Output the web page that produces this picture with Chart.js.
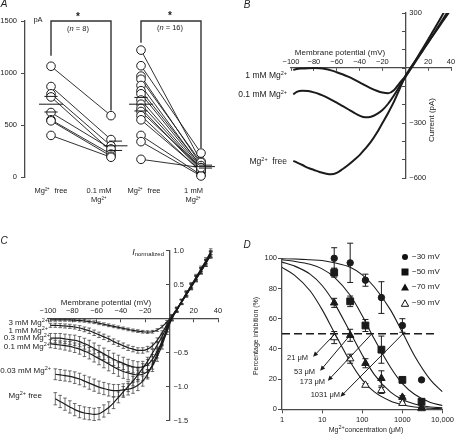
<!DOCTYPE html>
<html>
<head>
<meta charset="utf-8">
<title>Mg2+ block of NMDA currents</title>
<script src="https://cdn.jsdelivr.net/npm/chart.js@4.4.1/dist/chart.umd.min.js"></script>
<style>
  html, body { margin: 0; padding: 0; background: #fff; }
  #fig { position: relative; width: 456px; height: 437px; overflow: hidden;
         font-family: "Liberation Sans", Arial, sans-serif; color: #222; }
  #fig canvas { position: absolute; }
  .t { position: absolute; white-space: nowrap; line-height: 1; font-size: 8px; }
  .c { transform: translate(-50%, -50%); }
  .r { transform: translate(-100%, -50%); }
  .l { transform: translate(0, -50%); }
  .v { transform: translate(-50%, -50%) rotate(-90deg); }
  .p { font-style: italic; font-size: 10px; }
  .s { font-size: 7px; }
  sup { font-size: 5.5px; vertical-align: 3px; line-height: 0; }
  sub { font-size: 6px; vertical-align: -1px; line-height: 0; }
  .mk { position: absolute; transform: translate(-50%, -50%); }
</style>
</head>
<body>
<div id="fig">
  <canvas id="chartA" width="228" height="218" style="left:0;top:0"></canvas>
  <canvas id="chartB" width="228" height="218" style="left:228px;top:0"></canvas>
  <canvas id="chartC" width="228" height="219" style="left:0;top:218px"></canvas>
  <canvas id="chartD" width="228" height="219" style="left:228px;top:218px"></canvas>

  <!-- panel A text -->
  <div class="t p c" style="left:4px;top:4px">A</div>
  <div class="t c" style="left:38px;top:20px;font-size:7.5px">pA</div>
  <div class="t c" style="left:78px;top:17px;font-size:10px;font-weight:bold">*</div>
  <div class="t c" style="left:78px;top:29px;font-size:7.5px">(<i>n</i> = 8)</div>
  <div class="t c" style="left:170px;top:16px;font-size:10px;font-weight:bold">*</div>
  <div class="t c" style="left:170px;top:28px;font-size:7.5px">(<i>n</i> = 16)</div>

  <!-- panel B text -->
  <div class="t p c" style="left:247px;top:5px">B</div>
  <div class="t c" style="left:340px;top:53px">Membrane potential (mV)</div>
  <div class="t v" style="left:432px;top:120px">Current (pA)</div>
  <div class="t r" style="left:287px;top:75px;font-size:8.5px">1 mM Mg<sup>2+</sup></div>
  <div class="t r" style="left:287px;top:94px;font-size:8.5px">0.1 mM Mg<sup>2+</sup></div>
  <div class="t r" style="left:287px;top:161px;font-size:8.5px">Mg<sup>2+</sup>&nbsp; free</div>

  <!-- panel C text -->
  <div class="t p c" style="left:4px;top:241px">C</div>
  <div class="t c" style="left:106px;top:303px">Membrane potential (mV)</div>
  <div class="t r" style="left:164px;top:252px;font-size:9px"><i>I</i><sub>normalized</sub></div>
  <div class="t r" style="left:48px;top:323px">3 mM Mg<sup>2+</sup></div>
  <div class="t r" style="left:48px;top:331px">1 mM Mg<sup>2+</sup></div>
  <div class="t r" style="left:50px;top:338px">0.3 mM Mg<sup>2+</sup></div>
  <div class="t r" style="left:50px;top:347px">0.1 mM Mg<sup>2+</sup></div>
  <div class="t r" style="left:51px;top:371px">0.03 mM Mg<sup>2+</sup></div>
  <div class="t r" style="left:42px;top:396px">Mg<sup>2+</sup> free</div>

  <!-- panel D text -->
  <div class="t p c" style="left:247px;top:245px">D</div>
  <div class="t v s" style="left:255px;top:336px">Percentage inhibition (%)</div>
  <div class="t c s" style="left:366px;top:429px">Mg<sup>2+</sup>concentration (&mu;M)</div>
  <svg class="mk" style="left:405px;top:257px" width="8" height="8"><circle cx="4" cy="4" r="3" fill="#111"/></svg>
  <svg class="mk" style="left:405px;top:272px" width="8" height="8"><rect x="0.5" y="0.5" width="7" height="7" fill="#111"/></svg>
  <svg class="mk" style="left:405px;top:287px" width="9" height="8"><polygon points="4.5,0.5 8.5,7.5 0.5,7.5" fill="#111"/></svg>
  <svg class="mk" style="left:405px;top:303px" width="9" height="8"><polygon points="4.5,0.8 8.2,7.3 0.8,7.3" fill="#fff" stroke="#111" stroke-width="1"/></svg>
  <div class="t l" style="left:412px;top:257px">&minus;30 mV</div>
  <div class="t l" style="left:412px;top:272px">&minus;50 mV</div>
  <div class="t l" style="left:412px;top:287px">&minus;70 mV</div>
  <div class="t l" style="left:412px;top:303px">&minus;90 mV</div>
  <div id="icLabels"></div>
</div>

<script>
// ---------- data ----------
// A: paired peak currents (pA)
const aFreeLow = [1065, 870, 800, 770, 620, 550, 540, 400];
const aMg01 = [590, 360, 300, 250, 270, 220, 200, 190];
const aFreeHigh = [1220, 1070, 970, 940, 880, 830, 800, 740, 700, 660, 630, 590, 550, 400, 340, 170];
const aMg1 = [150, 230, 120, 140, 100, 110, 90, 80, 70, 60, 90, 50, 60, 20, 10, 90];
const aMeans = [700, 300, 700, 100];
const aSems = [75, 45, 65, 14];
const aLabels = [['Mg\u00B2\u207A  free'], ['0.1 mM', 'Mg\u00B2\u207A'], ['Mg\u00B2\u207A  free'], ['1 mM', 'Mg\u00B2\u207A']];

// B: I-V traces (pA)
const bVoltage = [-98, -95, -90, -85, -80, -75, -70, -65, -60, -55, -50, -45, -40, -35, -30, -25, -20, -15, -10, -5, 0, 5, 10, 15, 20, 25, 30, 35, 40];
const bMg1 = [-11, -5, -3, -1, 0, -2, -6, -13, -23, -34, -47, -62, -78, -95, -111, -124, -134, -138, -122, -82, -45, 0, 52, 104, 156, 208, 262, 316, 370];
const bMg01 = [-144, -130, -124, -126, -133, -143, -156, -172, -189, -207, -225, -243, -260, -269, -266, -252, -229, -195, -150, -100, -50, -3, 45, 92, 140, 188, 237, 286, 335];
const bFree = [-507, -515, -529, -545, -556, -567, -575, -580, -572, -552, -529, -503, -475, -440, -402, -355, -300, -245, -185, -115, -45, 5, 50, 95, 140, 185, 230, 275, 320];

// C: normalized I-V, mean and SEM
const cVoltage = [-98, -94, -90, -86, -82, -78, -74, -70, -66, -62, -58, -54, -50, -46, -42, -38, -34, -30, -26, -22, -18, -14, -10, -6, -2, 2, 6, 10, 14, 18, 22, 26, 30, 34];
const c3mM = [-0.02, -0.02, -0.02, -0.02, -0.02, -0.025, -0.03, -0.035, -0.045, -0.055, -0.07, -0.085, -0.1, -0.115, -0.13, -0.145, -0.16, -0.175, -0.185, -0.195, -0.2, -0.195, -0.17, -0.12, -0.05, 0.03, 0.13, 0.25, 0.37, 0.48, 0.6, 0.72, 0.84, 0.97];
const c1mM = [-0.1, -0.1, -0.105, -0.11, -0.115, -0.125, -0.14, -0.16, -0.18, -0.21, -0.24, -0.27, -0.3, -0.34, -0.37, -0.4, -0.43, -0.45, -0.47, -0.47, -0.45, -0.4, -0.32, -0.21, -0.09, 0.03, 0.14, 0.25, 0.37, 0.48, 0.6, 0.71, 0.83, 0.95];
const c03mM = [-0.29, -0.29, -0.29, -0.3, -0.31, -0.32, -0.34, -0.37, -0.4, -0.44, -0.48, -0.52, -0.56, -0.6, -0.63, -0.66, -0.69, -0.71, -0.72, -0.71, -0.68, -0.6, -0.48, -0.33, -0.15, 0.01, 0.13, 0.24, 0.36, 0.47, 0.59, 0.7, 0.82, 0.94];
const c01mM = [-0.37, -0.38, -0.39, -0.4, -0.41, -0.43, -0.45, -0.48, -0.51, -0.55, -0.59, -0.63, -0.67, -0.71, -0.75, -0.78, -0.8, -0.82, -0.83, -0.82, -0.78, -0.7, -0.56, -0.39, -0.19, 0.0, 0.12, 0.24, 0.35, 0.46, 0.58, 0.69, 0.81, 0.93];
const c003mM = [null, -0.82, -0.83, -0.84, -0.85, -0.87, -0.89, -0.92, -0.95, -0.98, -1.01, -1.03, -1.05, -1.06, -1.06, -1.05, -1.04, -1.02, -0.98, -0.92, -0.82, -0.68, -0.52, -0.35, -0.16, 0.0, 0.12, 0.24, 0.35, 0.47, 0.58, 0.7, 0.81, 0.94];
const cFree = [null, -1.18, -1.22, -1.26, -1.3, -1.34, -1.37, -1.39, -1.4, -1.41, -1.4, -1.36, -1.31, -1.24, -1.16, -1.08, -1.0, -0.92, -0.83, -0.73, -0.63, -0.51, -0.39, -0.26, -0.12, 0.01, 0.13, 0.25, 0.37, 0.49, 0.61, 0.73, 0.85, 0.98];
const s3mM = [0.02, 0.02, 0.02, 0.02, 0.02, 0.02, 0.02, 0.02, 0.02, 0.02, 0.02, 0.02, 0.02, 0.02, 0.02, 0.02, 0.02, 0.02, 0.02, 0.02, 0.02, 0.02, 0.02, 0.02, 0.02, 0.02, 0.03, 0.03, 0.03, 0.03, 0.03, 0.03, 0.03, 0.03];
const s1mM = [0.03, 0.03, 0.03, 0.03, 0.03, 0.03, 0.035, 0.035, 0.04, 0.04, 0.04, 0.04, 0.04, 0.04, 0.04, 0.04, 0.04, 0.04, 0.04, 0.04, 0.04, 0.04, 0.035, 0.03, 0.03, 0.03, 0.03, 0.03, 0.035, 0.035, 0.035, 0.04, 0.04, 0.04];
const s03mM = [0.07, 0.07, 0.07, 0.07, 0.07, 0.075, 0.075, 0.08, 0.08, 0.08, 0.085, 0.085, 0.09, 0.09, 0.09, 0.09, 0.09, 0.09, 0.085, 0.08, 0.075, 0.07, 0.06, 0.05, 0.04, 0.03, 0.03, 0.035, 0.035, 0.04, 0.04, 0.04, 0.045, 0.045];
const s01mM = [0.06, 0.06, 0.06, 0.065, 0.07, 0.07, 0.075, 0.08, 0.085, 0.09, 0.09, 0.095, 0.1, 0.1, 0.1, 0.1, 0.1, 0.1, 0.1, 0.095, 0.09, 0.08, 0.07, 0.06, 0.045, 0.035, 0.03, 0.035, 0.035, 0.04, 0.04, 0.04, 0.045, 0.045];
const s003mM = [null, 0.08, 0.08, 0.08, 0.08, 0.085, 0.085, 0.085, 0.09, 0.09, 0.09, 0.09, 0.09, 0.09, 0.09, 0.09, 0.085, 0.08, 0.08, 0.075, 0.07, 0.065, 0.06, 0.05, 0.04, 0.035, 0.03, 0.035, 0.035, 0.04, 0.04, 0.04, 0.045, 0.045];
const sFree = [null, 0.09, 0.09, 0.09, 0.09, 0.09, 0.09, 0.09, 0.09, 0.09, 0.09, 0.09, 0.085, 0.085, 0.08, 0.08, 0.075, 0.07, 0.07, 0.065, 0.06, 0.055, 0.05, 0.045, 0.04, 0.035, 0.03, 0.035, 0.035, 0.04, 0.04, 0.04, 0.045, 0.045];

// D: percentage inhibition vs [Mg2+] (uM)
const dConc = [20, 50, 120, 300, 1000, 3000];
const d30 = [100, 97, 85.5, 74, 55.5, 19.5];
const d30Err = [7, 13, 4, 10.5, 4.5, 0];
const d50 = [90.5, 71.5, 55.5, 39.5, 19.5, 5];
const d50Err = [3, 3.5, 4, 9, 2, 1.5];
const d70 = [70.5, 49, 30.5, 20.5, 8, 1];
const d70Err = [3, 4, 3, 5, 1, 0.5];
const d90 = [47.5, 33.5, 16, 12.5, 4, 0.5];
const d90Err = [4, 3, 1, 2, 1, 0];
const fitConc = [1, 2, 5, 10, 20, 50, 100, 200, 500, 1000, 2000, 5000, 10000];
const fit30 = [99.8, 99.6, 99, 98.5, 97, 94, 89, 81, 66, 51, 35.5, 19.5, 11.5];
const fit50 = [99, 98, 96, 93, 87.5, 75.5, 62, 46.5, 28, 17, 10, 4.5, 2.5];
const fit70 = [97.5, 95, 89.5, 82, 70.5, 51, 36, 23, 11.5, 6.5, 3.5, 1.5, 1];
const fit90 = [94, 89, 78.5, 66, 51, 31.5, 19.5, 11.5, 5.5, 3, 1.5, 0.7, 0.4];
const dIc50 = [21, 53, 173, 1031];
const dHalf = 50;

// ---------- shared ----------
Chart.defaults.font.family = '"Liberation Sans", Arial, sans-serif';
Chart.defaults.font.size = 7.5;
Chart.defaults.color = '#222';
Chart.defaults.animation = false;
Chart.defaults.plugins.legend.display = false;
Chart.defaults.plugins.tooltip.enabled = false;

const ink = '#1b1b1b';
const axisCol = '#4a4a4a';
const minus = v => (v < 0 ? '\u2212' : '') + Math.abs(v);
const pts = (xs, ys) => xs.map((x, i) => ({x: x, y: ys[i]}));

// vertical error bars from dataset.errors, drawn through the y scale
const errorBars = {
  id: 'errorBars',
  beforeDatasetsDraw(chart) {
    const {ctx, scales: {y}} = chart;
    chart.data.datasets.forEach((ds, i) => {
      if (!ds.errors) return;
      const meta = chart.getDatasetMeta(i);
      ctx.save();
      ctx.strokeStyle = ds.errorColor || ink;
      ctx.lineWidth = ds.errorWidth || 1;
      const cap = ds.capWidth || 3;
      meta.data.forEach((pt, j) => {
        const e = ds.errors[j], v = ds.data[j] && ds.data[j].y;
        if (e == null || v == null || !e) return;
        const top = y.getPixelForValue(v + e), bot = y.getPixelForValue(v - e);
        ctx.beginPath();
        ctx.moveTo(pt.x, top); ctx.lineTo(pt.x, bot);
        ctx.moveTo(pt.x - cap, top); ctx.lineTo(pt.x + cap, top);
        ctx.moveTo(pt.x - cap, bot); ctx.lineTo(pt.x + cap, bot);
        ctx.stroke();
      });
      ctx.restore();
    });
  }
};

// tick labels to the right of an axis that crosses at x = 0
function rightYLabels(decimals, shown) {
  return {
    id: 'rightYLabels',
    afterDraw(chart) {
      const {ctx, scales: {x, y}} = chart;
      const x0 = x.getPixelForValue(0) + 4;
      ctx.save();
      ctx.font = '7.5px "Liberation Sans", Arial, sans-serif';
      ctx.fillStyle = '#222';
      ctx.textAlign = 'left';
      ctx.textBaseline = 'middle';
      y.ticks.forEach(t => {
        const v = t.value;
        if (v === 0 || (shown && !shown.includes(v))) return;
        ctx.fillText((v < 0 ? '\u2212' : '') + Math.abs(v).toFixed(decimals), x0, y.getPixelForValue(v));
      });
      ctx.restore();
    }
  };
}

// ---------- A ----------
(function () {
  const cols = [0, 2, 3, 5];
  const tickPos = [0, 1.6, 3.1, 4.75];
  const meanShift = [0, 0.15, 0, 0.15];
  const pairs = [];
  aFreeLow.forEach((v, i) => pairs.push([{x: cols[0], y: v}, {x: cols[1], y: aMg01[i]}]));
  aFreeHigh.forEach((v, i) => pairs.push([{x: cols[2], y: v}, {x: cols[3], y: aMg1[i]}]));

  const meanData = [];
  aMeans.forEach((m, i) => {
    const c = cols[i] + meanShift[i];
    meanData.push({x: c - 0.4, y: m}, {x: c + 0.4, y: m}, {x: c, y: null},
      {x: c - 0.22, y: m + aSems[i]}, {x: c + 0.22, y: m + aSems[i]}, {x: c, y: null},
      {x: c - 0.22, y: m - aSems[i]}, {x: c + 0.22, y: m - aSems[i]}, {x: c, y: null});
  });

  const top = 1500;
  const bracket = (c0, c1, v0, v1) => [{x: c0, y: v0}, {x: c0, y: top}, {x: c1, y: top}, {x: c1, y: v1}];

  const datasets = pairs.map(p => ({
    type: 'line', data: p, borderColor: ink, borderWidth: 0.9, pointRadius: 0, order: 2
  }));
  datasets.push({
    type: 'scatter', data: pairs.flat(), pointRadius: 4.3, pointBackgroundColor: '#fff',
    pointBorderColor: ink, pointBorderWidth: 1, order: 1, clip: false
  });
  datasets.push({
    type: 'line', data: meanData, borderColor: ink, borderWidth: 1, pointRadius: 0, spanGaps: false, order: 0
  });
  datasets.push({
    type: 'line', data: bracket(cols[0], cols[1], Math.max(...aFreeLow) + 100, Math.max(...aMg01) + 50),
    borderColor: '#333', borderWidth: 1.4, pointRadius: 0, clip: false, order: 0
  });
  datasets.push({
    type: 'line', data: bracket(cols[2], cols[3], Math.max(...aFreeHigh) + 70, Math.max(...aMg1) + 50),
    borderColor: '#333', borderWidth: 1.4, pointRadius: 0, clip: false, order: 0
  });

  new Chart(document.getElementById('chartA'), {
    type: 'line',
    data: {datasets: datasets},
    options: {
      responsive: false,
      layout: {padding: {left: 0, top: 21, right: 13, bottom: 0}},
      scales: {
        x: {
          type: 'linear', min: -0.8667, max: 5.4667,
          afterBuildTicks: s => { s.ticks = tickPos.map(v => ({value: v})); },
          afterFit: s => { s.height = 41; },
          ticks: {
            autoSkip: false, maxRotation: 0, padding: 1.5,
            callback: (v, i) => aLabels[i]
          },
          grid: {display: false},
          border: {display: false}
        },
        y: {
          min: 0, max: 1500,
          afterFit: s => { s.width = 25; },
          ticks: {stepSize: 500, padding: 4, callback: v => String(v)},
          grid: {drawOnChartArea: false, tickLength: 4, color: axisCol},
          border: {color: axisCol, width: 1.3}
        }
      }
    }
  });
})();

// ---------- B ----------
new Chart(document.getElementById('chartB'), {
  type: 'line',
  data: {
    datasets: [bMg1, bMg01, bFree].map(ys => ({
      data: pts(bVoltage, ys), borderColor: ink, borderWidth: 2,
      pointRadius: 0, cubicInterpolationMode: 'monotone'
    }))
  },
  options: {
    responsive: false,
    layout: {padding: {left: 63, right: 5, top: 13, bottom: 40}},
    scales: {
      x: {
        type: 'linear', min: -100, max: 40, position: {y: 0},
        afterFit: s => { s.height = 0; },
        ticks: {stepSize: 20, padding: -13, maxRotation: 0, autoSkip: false,
          callback: v => v === 0 ? '' : minus(v)},
        grid: {drawOnChartArea: false, tickLength: 2.5, color: axisCol},
        border: {color: axisCol, width: 1.3}
      },
      y: {
        min: -600, max: 300, position: {x: 0},
        afterFit: s => { s.width = 0; },
        ticks: {stepSize: 100, display: false},
        grid: {drawOnChartArea: false, tickLength: 3, color: axisCol},
        border: {color: axisCol, width: 1.3}
      }
    }
  },
  plugins: [rightYLabels(0, [300, -300, -600])]
});

// ---------- C ----------
new Chart(document.getElementById('chartC'), {
  type: 'line',
  data: {
    datasets: [[c3mM, s3mM], [c1mM, s1mM], [c03mM, s03mM], [c01mM, s01mM], [c003mM, s003mM], [cFree, sFree]]
      .map(([ys, es]) => ({
        data: pts(cVoltage, ys), errors: es, errorColor: '#333', errorWidth: 0.7, capWidth: 1.8,
        borderColor: ink, borderWidth: 1.2, pointRadius: 0, cubicInterpolationMode: 'monotone'
      }))
  },
  options: {
    responsive: false,
    layout: {padding: {left: 48, right: 10, top: 32.5, bottom: 16.5}},
    scales: {
      x: {
        type: 'linear', min: -100, max: 40, position: {y: 0},
        afterFit: s => { s.height = 0; },
        ticks: {stepSize: 20, padding: -15.5, maxRotation: 0, autoSkip: false,
          callback: v => v === 0 ? '' : minus(v)},
        grid: {drawOnChartArea: false, tickLength: 3, color: axisCol},
        border: {color: axisCol, width: 1.3}
      },
      y: {
        min: -1.5, max: 1, position: {x: 0},
        afterFit: s => { s.width = 0; },
        ticks: {stepSize: 0.5, display: false},
        grid: {drawOnChartArea: false, tickLength: 3, color: axisCol},
        border: {color: axisCol, width: 1.3}
      }
    }
  },
  plugins: [errorBars, rightYLabels(1)]
});

// ---------- D ----------
(function () {
  // arrow lengths (px) from each IC50 crossing towards its label
  const arrowVec = [[-22, 23], [-31, 37], [-44, 47], [-62.5, 63]];
  const labelAt = [[308, 358], [315, 372], [325, 381.5], [340, 395]];
  const holder = document.getElementById('icLabels');
  dIc50.forEach((v, i) => {
    const d = document.createElement('div');
    d.className = 't r';
    d.style.cssText = 'left:' + labelAt[i][0] + 'px;top:' + labelAt[i][1] + 'px;font-size:7.5px';
    d.textContent = v + ' \u03BCM';
    holder.appendChild(d);
  });

  const arrows = {
    id: 'icArrows',
    afterDatasetsDraw(chart) {
      const {ctx, scales: {x, y}} = chart;
      ctx.save();
      ctx.strokeStyle = ink; ctx.fillStyle = ink; ctx.lineWidth = 1;
      dIc50.forEach((c, i) => {
        const x0 = x.getPixelForValue(c), y0 = y.getPixelForValue(dHalf);
        const [dx, dy] = arrowVec[i];
        const x1 = x0 + dx, y1 = y0 + dy;
        const a = Math.atan2(dy, dx), L = 5, W = 2.3;
        const ca = Math.cos(a), sa = Math.sin(a);
        ctx.beginPath(); ctx.moveTo(x0, y0); ctx.lineTo(x1 - L * 0.7 * ca, y1 - L * 0.7 * sa); ctx.stroke();
        ctx.beginPath();
        ctx.moveTo(x1, y1);
        ctx.lineTo(x1 - L * ca + W * sa, y1 - L * sa - W * ca);
        ctx.lineTo(x1 - L * ca - W * sa, y1 - L * sa + W * ca);
        ctx.closePath(); ctx.fill();
      });
      ctx.restore();
    }
  };

  const fitSet = ys => ({
    type: 'line', data: pts(fitConc, ys), borderColor: ink, borderWidth: 1.1,
    pointRadius: 0, cubicInterpolationMode: 'monotone', order: 2
  });
  const pointSet = (ys, es, style, radius, fill) => ({
    type: 'scatter', data: pts(dConc, ys), errors: es, errorWidth: 1, capWidth: 3,
    pointStyle: style, pointRadius: radius, pointBackgroundColor: fill, pointBorderColor: ink,
    pointBorderWidth: 1, clip: false, order: 0
  });

  new Chart(document.getElementById('chartD'), {
    type: 'line',
    data: {
      datasets: [
        pointSet(d30, d30Err, 'circle', 3.2, ink),
        pointSet(d50, d50Err, 'rect', 4.8, ink),
        pointSet(d70, d70Err, 'triangle', 4.3, ink),
        pointSet(d90, d90Err, 'triangle', 4.3, '#fff'),
        fitSet(fit30), fitSet(fit50), fitSet(fit70), fitSet(fit90),
        {
          type: 'line', data: [{x: 1, y: dHalf}, {x: 7400, y: dHalf}], borderColor: ink,
          borderWidth: 1.4, borderDash: [8, 4], pointRadius: 0, order: 3
        }
      ]
    },
    options: {
      responsive: false,
      layout: {padding: {left: 0, top: 40.3, right: 9.5, bottom: 0}},
      scales: {
        x: {
          type: 'logarithmic', min: 1, max: 10000,
          afterBuildTicks: s => { s.ticks = [1, 10, 100, 1000, 10000].map(v => ({value: v})); },
          afterFit: s => { s.height = 27.7; },
          ticks: {padding: 2, maxRotation: 0, autoSkip: false,
            callback: v => v >= 10000 ? '10,000' : String(v)},
          grid: {drawOnChartArea: false, tickLength: 4, color: axisCol},
          border: {color: axisCol, width: 1.3}
        },
        y: {
          min: 0, max: 100,
          afterFit: s => { s.width = 54; },
          ticks: {stepSize: 20, padding: 1},
          grid: {drawOnChartArea: false, tickLength: 4, color: axisCol},
          border: {color: axisCol, width: 1.3}
        }
      }
    },
    plugins: [errorBars, arrows]
  });
})();
</script>
</body>
</html>
